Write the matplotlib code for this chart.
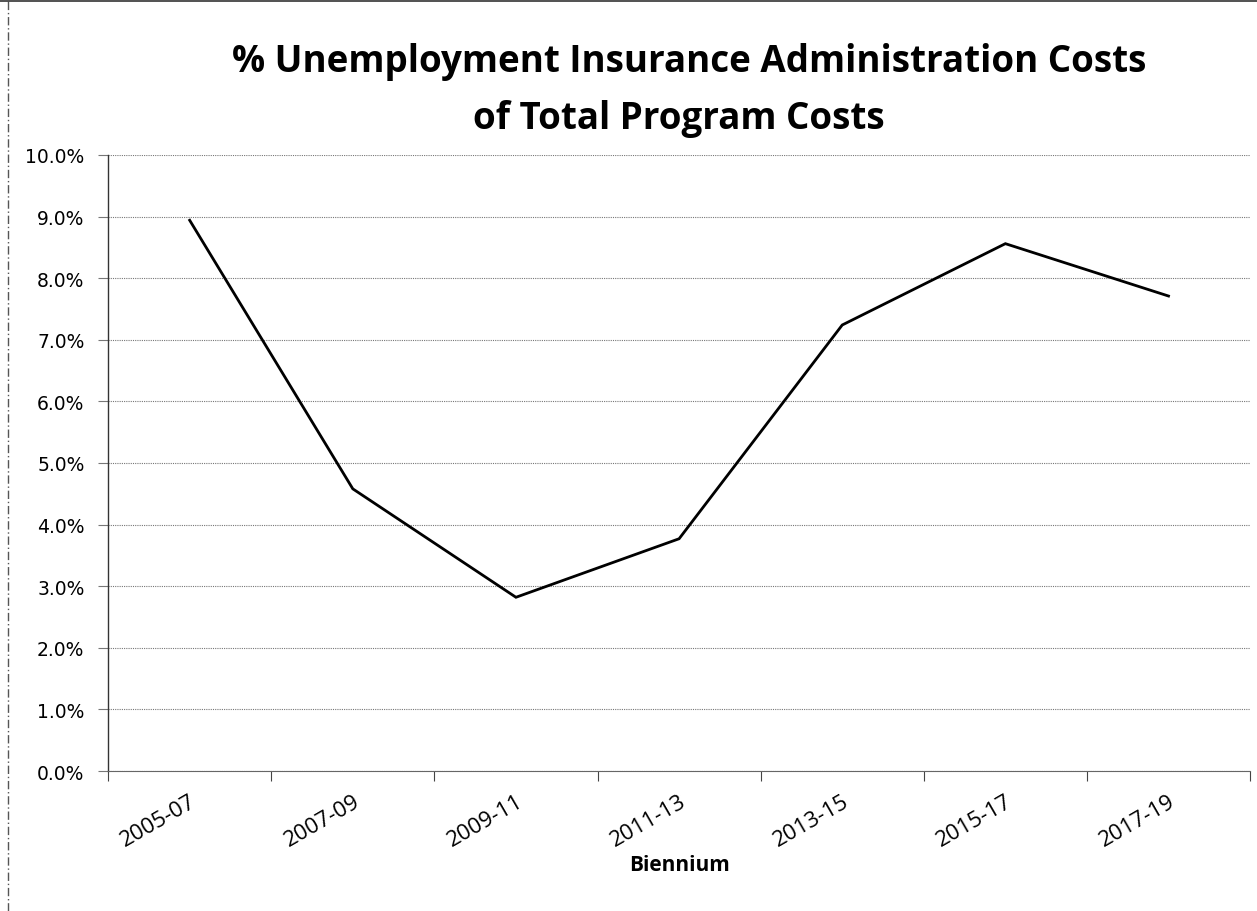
import matplotlib.pyplot as plt
from matplotlib.ticker import FuncFormatter, MultipleLocator
from matplotlib.lines import Line2D

# Share of administration costs in total UI program costs, by biennium
biennia = ["2005-07", "2007-09", "2009-11", "2011-13", "2013-15", "2015-17", "2017-19"]
admin_pct = [8.94, 4.58, 2.82, 3.77, 7.24, 8.56, 7.71]

fig = plt.figure(figsize=(12.57, 9.12), dpi=100)
ax = fig.add_axes([0.086, 0.1535, 0.9085, 0.6755])

x = range(len(biennia))
ax.plot(x, admin_pct, color="black", linewidth=2.0, solid_joinstyle="miter")

ax.set_xlim(-0.5, len(biennia) - 0.5)
ax.set_ylim(0, 10)
ax.yaxis.set_major_locator(MultipleLocator(1))
ax.yaxis.set_major_formatter(FuncFormatter(lambda v, p: f"{v:.1f}%"))
ax.grid(axis="y", color="#777777", linestyle=(0, (1, 1)), linewidth=0.8)
ax.set_axisbelow(True)

# category labels sit between tick marks drawn at the boundaries
ax.set_xticks(list(x))
ax.set_xticks([i - 0.5 for i in range(len(biennia) + 1)], minor=True)
ax.tick_params(axis="x", which="major", length=0, pad=14)
ax.tick_params(axis="x", which="minor", length=7, width=0.8, color="#444444")
ax.set_xticklabels(biennia, rotation=30, ha="right", rotation_mode="anchor",
                   fontsize=16, family="Open Sans")
ax.tick_params(axis="y", length=7, width=0.8, color="#777777", labelsize=13.5, pad=10)

for s in ("top", "right"):
    ax.spines[s].set_visible(False)
ax.spines["left"].set_color("#333333")
ax.spines["left"].set_linewidth(1.0)
ax.spines["bottom"].set_color("#666666")
ax.spines["bottom"].set_linewidth(0.8)

ax.set_xlabel("Biennium", fontsize=15, fontweight="bold", family="Open Sans")
ax.xaxis.set_label_coords(0.5, -0.135)

# two-line title centred over the plot area
cx = 0.548
fig.text(cx, 0.932, "% Unemployment Insurance Administration Costs", ha="center", va="center",
         fontsize=26.5, fontweight="bold", family="Open Sans")
fig.text(cx - 0.008, 0.869, "of Total Program Costs", ha="center", va="center",
         fontsize=26.5, fontweight="bold", family="Open Sans")

# page frame
fig.add_artist(Line2D([0.0065, 0.0065], [0, 0.998], transform=fig.transFigure,
                      color="#555555", linewidth=1.0, linestyle=(0, (6, 2, 1, 2))))
fig.add_artist(Line2D([0, 1], [0.998, 0.998], transform=fig.transFigure,
                      color="#333333", linewidth=1.2))

fig.savefig("out.png", dpi=100)
